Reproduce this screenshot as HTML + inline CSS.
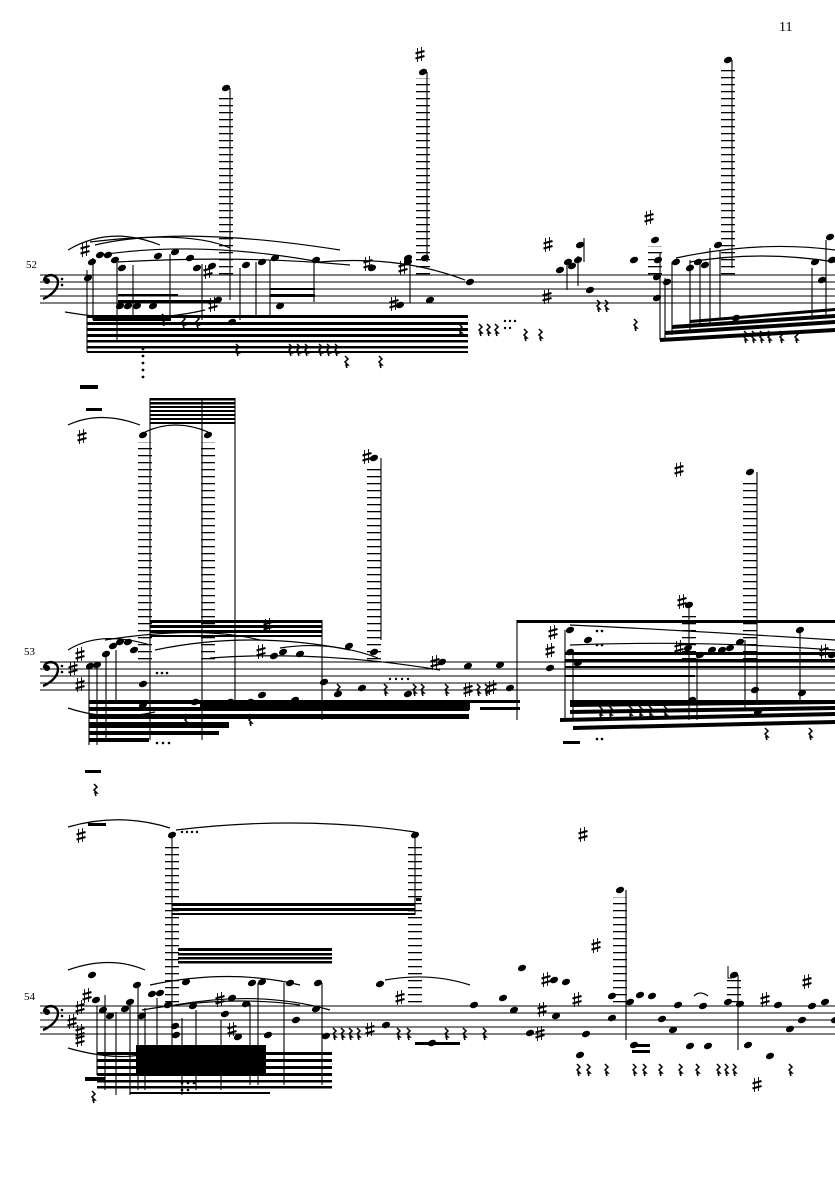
<!DOCTYPE html>
<html><head><meta charset="utf-8"><style>
html,body{margin:0;padding:0;background:#fff}
svg{display:block}
text{font-family:"Liberation Serif",serif;fill:#000}
</style></head><body>
<svg width="835" height="1181" viewBox="0 0 835 1181" xmlns="http://www.w3.org/2000/svg">
<defs>
<pattern id="led" width="14" height="7" patternUnits="userSpaceOnUse"><rect x="0" y="0" width="14" height="1.3" fill="#000"/></pattern>
<g id="n"><ellipse cx="0" cy="0" rx="4.2" ry="3" transform="rotate(-22)" fill="#000"/></g>
<g id="s"><path d="M-2.5,-7v14M1.5,-8v14" stroke="#000" stroke-width="0.9"/><path d="M-4.5,-1.5l9,-2.5M-4.5,3.5l9,-2.5" stroke="#000" stroke-width="2"/></g>
<g id="r"><path d="M-1,-6l3,3-3,3 3,3-2,0 1,3" stroke="#000" stroke-width="1.5" fill="none"/></g>
<g id="clef"><circle cx="-4" cy="-4" r="3" fill="#000"/><path d="M-7,-4c0-8 14-8 14,1c0,8-8,14-15,17" stroke="#000" stroke-width="2.4" fill="none"/><circle cx="11" cy="-6" r="1.3"/><circle cx="11" cy="0" r="1.3"/></g>
</defs>
<text x="779" y="31" font-size="14">11</text>

<!-- ===== SYSTEM 1 ===== -->
<text x="26" y="268" font-size="11">52</text>
<g stroke="#000" stroke-width="0.9">
<line x1="40" y1="275" x2="835" y2="275"/><line x1="40" y1="282" x2="835" y2="282"/><line x1="40" y1="289" x2="835" y2="289"/><line x1="40" y1="296" x2="835" y2="296"/><line x1="40" y1="303" x2="835" y2="303"/>
</g>
<use href="#clef" x="51" y="285"/>
<!-- ledger stacks -->
<rect x="219" y="94" width="14" height="181" fill="url(#led)"/>
<rect x="416" y="78" width="14" height="197" fill="url(#led)"/>
<rect x="721" y="66" width="14" height="209" fill="url(#led)"/>
<rect x="648" y="246" width="14" height="29" fill="url(#led)"/>
<use href="#n" x="226" y="88"/><use href="#n" x="423" y="72"/><use href="#n" x="728" y="60"/><use href="#n" x="655" y="240"/>
<use href="#s" x="420" y="55"/><use href="#s" x="649" y="218"/><use href="#s" x="548" y="245"/><use href="#s" x="547" y="297"/><use href="#s" x="403" y="268"/><use href="#s" x="394" y="304"/><use href="#s" x="208" y="272"/><use href="#s" x="213" y="305"/><use href="#s" x="368" y="264"/><use href="#s" x="85" y="250"/>
<g stroke="#000" stroke-width="1.1">
<line x1="230" y1="88" x2="230" y2="300"/><line x1="427" y1="72" x2="427" y2="262"/><line x1="732" y1="60" x2="732" y2="268"/>
<line x1="87" y1="270" x2="87" y2="352"/><line x1="93" y1="258" x2="93" y2="320"/><line x1="117" y1="262" x2="117" y2="340"/><line x1="133" y1="265" x2="133" y2="320"/><line x1="170" y1="254" x2="170" y2="320"/><line x1="202" y1="264" x2="202" y2="320"/><line x1="240" y1="268" x2="240" y2="320"/><line x1="256" y1="262" x2="256" y2="318"/><line x1="270" y1="260" x2="270" y2="318"/><line x1="314" y1="262" x2="314" y2="302"/><line x1="410" y1="258" x2="410" y2="303"/>
<line x1="660" y1="252" x2="660" y2="340"/><line x1="665" y1="278" x2="665" y2="340"/><line x1="672" y1="262" x2="672" y2="335"/><line x1="690" y1="260" x2="690" y2="330"/><line x1="700" y1="262" x2="700" y2="326"/><line x1="710" y1="248" x2="710" y2="325"/><line x1="720" y1="250" x2="720" y2="320"/><line x1="812" y1="268" x2="812" y2="320"/><line x1="826" y1="240" x2="826" y2="318"/>
<line x1="567" y1="262" x2="567" y2="290"/><line x1="578" y1="256" x2="578" y2="286"/><line x1="584" y1="238" x2="584" y2="262"/>
</g>
<!-- noteheads staff 1 -->
<g>
<use href="#n" x="88" y="278"/><use href="#n" x="92" y="262"/><use href="#n" x="100" y="255"/><use href="#n" x="108" y="255"/><use href="#n" x="115" y="260"/><use href="#n" x="122" y="268"/><use href="#n" x="120" y="306"/><use href="#n" x="128" y="306"/><use href="#n" x="137" y="306"/><use href="#n" x="153" y="306"/><use href="#n" x="158" y="256"/><use href="#n" x="175" y="252"/><use href="#n" x="190" y="258"/><use href="#n" x="197" y="268"/><use href="#n" x="212" y="266"/><use href="#n" x="218" y="300"/><use href="#n" x="232" y="322"/><use href="#n" x="246" y="265"/><use href="#n" x="262" y="262"/><use href="#n" x="275" y="258"/><use href="#n" x="280" y="306"/><use href="#n" x="316" y="260"/><use href="#n" x="372" y="268"/><use href="#n" x="400" y="305"/><use href="#n" x="408" y="262"/><use href="#n" x="408" y="258"/><use href="#n" x="425" y="258"/><use href="#n" x="470" y="282"/><use href="#n" x="430" y="300"/>
<use href="#n" x="560" y="270"/><use href="#n" x="568" y="262"/><use href="#n" x="572" y="266"/><use href="#n" x="578" y="260"/><use href="#n" x="580" y="245"/><use href="#n" x="590" y="290"/><use href="#n" x="634" y="260"/><use href="#n" x="658" y="260"/><use href="#n" x="657" y="277"/><use href="#n" x="657" y="298"/><use href="#n" x="667" y="282"/><use href="#n" x="676" y="262"/><use href="#n" x="690" y="268"/><use href="#n" x="698" y="262"/><use href="#n" x="705" y="265"/><use href="#n" x="718" y="245"/><use href="#n" x="736" y="318"/><use href="#n" x="815" y="262"/><use href="#n" x="822" y="280"/><use href="#n" x="830" y="237"/><use href="#n" x="832" y="260"/>
</g>
<!-- beams system 1 -->
<g fill="#000">
<rect x="87" y="315" width="381" height="3"/><rect x="87" y="322" width="381" height="3"/><rect x="87" y="328" width="381" height="3"/><rect x="87" y="334" width="381" height="3"/><rect x="87" y="340" width="381" height="2.5"/><rect x="87" y="346" width="381" height="2.5"/><rect x="87" y="351" width="381" height="2"/>
<rect x="93" y="318" width="78" height="3"/><rect x="118" y="300" width="100" height="3"/><rect x="118" y="294" width="60" height="2.5"/>
<rect x="270" y="294" width="45" height="3"/><rect x="270" y="288" width="45" height="2"/>
<polygon points="660,338 835,328 835,332 660,342"/><polygon points="665,331 835,320 835,324 665,335"/><polygon points="672,325 835,314 835,318 672,329"/><polygon points="690,320 835,308 835,311 690,323"/>
<rect x="80" y="385" width="18" height="4"/><rect x="86" y="408" width="16" height="3"/>
<circle cx="143" cy="349" r="1.4"/><circle cx="143" cy="356" r="1.4"/><circle cx="143" cy="363" r="1.4"/><circle cx="143" cy="370" r="1.4"/><circle cx="143" cy="377" r="1.4"/>
<circle cx="505" cy="321" r="1.2"/><circle cx="510" cy="321" r="1.2"/><circle cx="515" cy="321" r="1.2"/><circle cx="505" cy="328" r="1.2"/><circle cx="510" cy="328" r="1.2"/>
</g>
<g>
<use href="#r" x="163" y="320"/><use href="#r" x="183" y="322"/><use href="#r" x="197" y="322"/><use href="#r" x="237" y="350"/><use href="#r" x="290" y="350"/><use href="#r" x="298" y="350"/><use href="#r" x="306" y="350"/><use href="#r" x="320" y="350"/><use href="#r" x="328" y="350"/><use href="#r" x="336" y="350"/><use href="#r" x="346" y="362"/><use href="#r" x="380" y="362"/><use href="#r" x="460" y="330"/><use href="#r" x="480" y="330"/><use href="#r" x="488" y="330"/><use href="#r" x="496" y="330"/><use href="#r" x="525" y="335"/><use href="#r" x="540" y="335"/><use href="#r" x="598" y="306"/><use href="#r" x="606" y="306"/><use href="#r" x="635" y="325"/><use href="#r" x="745" y="337"/><use href="#r" x="753" y="337"/><use href="#r" x="761" y="337"/><use href="#r" x="769" y="337"/><use href="#r" x="781" y="337"/><use href="#r" x="796" y="337"/>
</g>
<g fill="none" stroke="#000" stroke-width="1.2">
<path d="M68,250 Q110,225 160,245"/><path d="M95,245 Q180,225 340,250"/><path d="M100,255 Q200,240 320,262"/><path d="M118,262 Q240,255 350,265"/><path d="M65,312 Q140,325 205,310"/><path d="M90,242 Q190,230 230,248"/><path d="M320,262 Q400,255 465,280"/><path d="M676,258 Q760,240 835,250"/><path d="M690,262 Q760,250 835,262"/>
</g>

<!-- ===== SYSTEM 2 ===== -->
<text x="24" y="655" font-size="11">53</text>
<g stroke="#000" stroke-width="0.9">
<line x1="40" y1="662" x2="835" y2="662"/><line x1="40" y1="669" x2="835" y2="669"/><line x1="40" y1="676" x2="835" y2="676"/><line x1="40" y1="683" x2="835" y2="683"/><line x1="40" y1="690" x2="835" y2="690"/>
</g>
<use href="#clef" x="51" y="672"/>
<use href="#s" x="73" y="669"/><use href="#s" x="80" y="655"/><use href="#s" x="80" y="685"/><use href="#s" x="82" y="437"/>
<rect x="138" y="442" width="14" height="220" fill="url(#led)"/>
<rect x="201" y="442" width="14" height="220" fill="url(#led)"/>
<rect x="367" y="466" width="14" height="196" fill="url(#led)"/>
<rect x="743" y="478" width="14" height="184" fill="url(#led)"/>
<rect x="682" y="612" width="14" height="50" fill="url(#led)"/>
<use href="#n" x="143" y="435"/><use href="#n" x="208" y="435"/><use href="#n" x="374" y="458"/><use href="#n" x="750" y="472"/><use href="#n" x="689" y="605"/>
<use href="#s" x="367" y="457"/><use href="#s" x="679" y="470"/><use href="#s" x="682" y="602"/><use href="#s" x="268" y="626"/><use href="#s" x="261" y="652"/><use href="#s" x="435" y="663"/><use href="#s" x="468" y="690"/><use href="#s" x="492" y="688"/><use href="#s" x="553" y="633"/><use href="#s" x="550" y="651"/><use href="#s" x="679" y="648"/><use href="#s" x="824" y="652"/>
<g stroke="#000" stroke-width="1.1">
<line x1="150" y1="398" x2="150" y2="740"/><line x1="202" y1="398" x2="202" y2="740"/><line x1="235" y1="398" x2="235" y2="700"/>
<line x1="381" y1="458" x2="381" y2="640"/><line x1="757" y1="472" x2="757" y2="700"/>
<line x1="89" y1="668" x2="89" y2="745"/><line x1="97" y1="665" x2="97" y2="745"/><line x1="106" y1="655" x2="106" y2="740"/><line x1="116" y1="650" x2="116" y2="700"/>
<line x1="322" y1="620" x2="322" y2="720"/><line x1="517" y1="620" x2="517" y2="720"/><line x1="565" y1="630" x2="565" y2="720"/><line x1="573" y1="650" x2="573" y2="720"/>
<line x1="689" y1="605" x2="689" y2="720"/><line x1="697" y1="655" x2="697" y2="720"/><line x1="745" y1="640" x2="745" y2="710"/><line x1="800" y1="630" x2="800" y2="700"/>
</g>
<g>
<use href="#n" x="90" y="666"/><use href="#n" x="97" y="665"/><use href="#n" x="106" y="654"/><use href="#n" x="113" y="646"/><use href="#n" x="120" y="642"/><use href="#n" x="128" y="642"/><use href="#n" x="134" y="650"/><use href="#n" x="143" y="684"/><use href="#n" x="143" y="705"/><use href="#n" x="195" y="702"/><use href="#n" x="230" y="702"/><use href="#n" x="250" y="702"/><use href="#n" x="262" y="695"/><use href="#n" x="274" y="656"/><use href="#n" x="283" y="652"/><use href="#n" x="295" y="700"/><use href="#n" x="300" y="654"/><use href="#n" x="324" y="682"/><use href="#n" x="349" y="646"/><use href="#n" x="338" y="694"/><use href="#n" x="362" y="688"/><use href="#n" x="374" y="652"/><use href="#n" x="408" y="694"/><use href="#n" x="442" y="662"/><use href="#n" x="468" y="666"/><use href="#n" x="500" y="665"/><use href="#n" x="510" y="688"/><use href="#n" x="550" y="668"/>
<use href="#n" x="570" y="630"/><use href="#n" x="570" y="652"/><use href="#n" x="578" y="663"/><use href="#n" x="588" y="640"/><use href="#n" x="688" y="648"/><use href="#n" x="692" y="700"/><use href="#n" x="700" y="655"/><use href="#n" x="712" y="650"/><use href="#n" x="722" y="650"/><use href="#n" x="730" y="648"/><use href="#n" x="740" y="642"/><use href="#n" x="755" y="690"/><use href="#n" x="758" y="712"/><use href="#n" x="800" y="630"/><use href="#n" x="802" y="693"/><use href="#n" x="832" y="655"/>
</g>
<g fill="#000">
<rect x="150" y="398" width="85" height="2.5"/><rect x="150" y="402" width="85" height="2.5"/><rect x="150" y="406" width="85" height="2"/><rect x="150" y="410" width="85" height="2"/><rect x="150" y="414" width="85" height="2"/><rect x="150" y="418" width="85" height="2"/><rect x="150" y="422" width="85" height="2"/>
<rect x="150" y="620" width="172" height="3"/><rect x="150" y="625" width="172" height="3"/><rect x="150" y="630" width="172" height="3"/><rect x="150" y="635" width="172" height="2"/>
<rect x="89" y="700" width="380" height="4"/><rect x="89" y="707" width="380" height="4"/><rect x="89" y="714" width="380" height="5"/><rect x="89" y="722" width="140" height="6"/><rect x="89" y="731" width="130" height="4"/><rect x="89" y="738" width="60" height="4"/>
<rect x="200" y="700" width="270" height="10"/>
<rect x="470" y="700" width="50" height="3"/><rect x="480" y="707" width="40" height="3"/>
<rect x="517" y="620" width="318" height="3"/><rect x="565" y="652" width="270" height="3"/><rect x="565" y="659" width="270" height="3"/><rect x="565" y="666" width="270" height="2"/><rect x="565" y="675" width="130" height="2"/>
<polygon points="570,700 835,700 835,704 570,707"/><polygon points="570,710 835,706 835,710 570,714"/><polygon points="560,718 835,712 835,716 560,722"/><polygon points="573,726 835,720 835,724 573,730"/>
<rect x="563" y="741" width="17" height="3"/><rect x="85" y="770" width="16" height="3"/>
<circle cx="157" cy="673" r="1.3"/><circle cx="162" cy="673" r="1.3"/><circle cx="167" cy="673" r="1.3"/><circle cx="157" cy="743" r="1.3"/><circle cx="163" cy="743" r="1.3"/><circle cx="169" cy="743" r="1.3"/><circle cx="597" cy="739" r="1.3"/><circle cx="602" cy="739" r="1.3"/><circle cx="597" cy="631" r="1.3"/><circle cx="602" cy="631" r="1.3"/><circle cx="597" cy="645" r="1.3"/><circle cx="602" cy="645" r="1.3"/>
<circle cx="390" cy="679" r="1.2"/><circle cx="396" cy="679" r="1.2"/><circle cx="402" cy="679" r="1.2"/><circle cx="408" cy="679" r="1.2"/>
</g>
<g>
<use href="#r" x="414" y="690"/><use href="#r" x="422" y="690"/><use href="#r" x="446" y="690"/><use href="#r" x="478" y="690"/><use href="#r" x="486" y="690"/><use href="#r" x="338" y="690"/><use href="#r" x="385" y="690"/><use href="#r" x="600" y="712"/><use href="#r" x="610" y="712"/><use href="#r" x="630" y="712"/><use href="#r" x="640" y="712"/><use href="#r" x="650" y="712"/><use href="#r" x="665" y="712"/><use href="#r" x="766" y="734"/><use href="#r" x="810" y="734"/><use href="#r" x="95" y="790"/><use href="#r" x="186" y="720"/><use href="#r" x="250" y="720"/>
</g>
<g fill="none" stroke="#000" stroke-width="1.2">
<path d="M68,425 Q100,410 140,425"/><path d="M68,650 Q100,630 150,645"/><path d="M68,708 Q110,722 155,712"/><path d="M105,640 Q200,625 260,640"/><path d="M155,650 Q250,630 350,650"/><path d="M145,432 Q175,418 208,432"/><path d="M280,648 Q330,640 378,658"/><path d="M210,658 Q320,650 440,670"/><path d="M570,625 Q680,630 835,640"/><path d="M570,645 Q700,640 835,650"/>
</g>

<!-- ===== SYSTEM 3 ===== -->
<text x="24" y="1000" font-size="11">54</text>
<g stroke="#000" stroke-width="0.9">
<line x1="40" y1="1006" x2="835" y2="1006"/><line x1="40" y1="1013" x2="835" y2="1013"/><line x1="40" y1="1020" x2="835" y2="1020"/><line x1="40" y1="1027" x2="835" y2="1027"/><line x1="40" y1="1034" x2="835" y2="1034"/>
</g>
<use href="#clef" x="51" y="1016"/>
<use href="#s" x="72" y="1022"/><use href="#s" x="80" y="1008"/><use href="#s" x="80" y="1032"/><use href="#s" x="87" y="996"/><use href="#s" x="80" y="1040"/><use href="#s" x="81" y="836"/><use href="#s" x="583" y="835"/><use href="#s" x="596" y="946"/><use href="#s" x="546" y="980"/><use href="#s" x="542" y="1010"/><use href="#s" x="577" y="1000"/><use href="#s" x="540" y="1034"/><use href="#s" x="757" y="1085"/><use href="#s" x="765" y="1000"/><use href="#s" x="807" y="982"/><use href="#s" x="232" y="1030"/><use href="#s" x="220" y="1000"/><use href="#s" x="400" y="998"/><use href="#s" x="370" y="1030"/>
<rect x="165" y="842" width="14" height="164" fill="url(#led)"/>
<rect x="408" y="842" width="14" height="164" fill="url(#led)"/>
<rect x="613" y="897" width="14" height="109" fill="url(#led)"/>
<rect x="727" y="978" width="14" height="28" fill="url(#led)"/>
<use href="#n" x="172" y="835"/><use href="#n" x="415" y="835"/><use href="#n" x="620" y="890"/><use href="#n" x="734" y="975"/>
<path d="M728,966v12h4" stroke="#000" stroke-width="1" fill="none"/>
<g stroke="#000" stroke-width="1.1">
<line x1="172" y1="835" x2="172" y2="1075"/><line x1="415" y1="835" x2="415" y2="915"/><line x1="626" y1="890" x2="626" y2="1040"/><line x1="738" y1="975" x2="738" y2="1050"/>
<line x1="97" y1="1006" x2="97" y2="1075"/><line x1="105" y1="995" x2="105" y2="1090"/><line x1="116" y1="1012" x2="116" y2="1095"/><line x1="130" y1="1000" x2="130" y2="1095"/><line x1="138" y1="985" x2="138" y2="1090"/><line x1="145" y1="1008" x2="145" y2="1090"/><line x1="157" y1="998" x2="157" y2="1075"/><line x1="182" y1="1018" x2="182" y2="1095"/><line x1="196" y1="1010" x2="196" y2="1090"/><line x1="221" y1="1020" x2="221" y2="1090"/><line x1="250" y1="1003" x2="250" y2="1085"/><line x1="258" y1="983" x2="258" y2="1085"/><line x1="284" y1="983" x2="284" y2="1085"/><line x1="322" y1="983" x2="322" y2="1085"/>
</g>
<g>
<use href="#n" x="92" y="975"/><use href="#n" x="96" y="1000"/><use href="#n" x="103" y="1010"/><use href="#n" x="110" y="1016"/><use href="#n" x="125" y="1009"/><use href="#n" x="130" y="1002"/><use href="#n" x="137" y="985"/><use href="#n" x="142" y="1016"/><use href="#n" x="152" y="994"/><use href="#n" x="160" y="993"/><use href="#n" x="168" y="1005"/><use href="#n" x="175" y="1026"/><use href="#n" x="186" y="982"/><use href="#n" x="193" y="1006"/><use href="#n" x="176" y="1035"/><use href="#n" x="225" y="1014"/><use href="#n" x="238" y="1037"/><use href="#n" x="232" y="998"/><use href="#n" x="246" y="1004"/><use href="#n" x="252" y="983"/><use href="#n" x="262" y="982"/><use href="#n" x="268" y="1035"/><use href="#n" x="296" y="1020"/><use href="#n" x="290" y="983"/><use href="#n" x="316" y="1009"/><use href="#n" x="318" y="983"/><use href="#n" x="326" y="1036"/><use href="#n" x="380" y="984"/><use href="#n" x="386" y="1025"/><use href="#n" x="432" y="1043"/><use href="#n" x="474" y="1005"/><use href="#n" x="503" y="998"/><use href="#n" x="514" y="1010"/><use href="#n" x="522" y="968"/><use href="#n" x="530" y="1033"/><use href="#n" x="554" y="980"/><use href="#n" x="556" y="1016"/><use href="#n" x="566" y="982"/><use href="#n" x="586" y="1034"/><use href="#n" x="580" y="1055"/><use href="#n" x="612" y="996"/><use href="#n" x="612" y="1018"/><use href="#n" x="630" y="1002"/><use href="#n" x="634" y="1045"/><use href="#n" x="640" y="995"/><use href="#n" x="652" y="996"/><use href="#n" x="662" y="1019"/><use href="#n" x="673" y="1030"/><use href="#n" x="678" y="1005"/><use href="#n" x="690" y="1046"/><use href="#n" x="703" y="1006"/><use href="#n" x="708" y="1046"/><use href="#n" x="728" y="1002"/><use href="#n" x="740" y="1004"/><use href="#n" x="748" y="1045"/><use href="#n" x="770" y="1056"/><use href="#n" x="778" y="1005"/><use href="#n" x="790" y="1029"/><use href="#n" x="802" y="1020"/><use href="#n" x="812" y="1006"/><use href="#n" x="825" y="1002"/><use href="#n" x="835" y="1020"/>
</g>
<g fill="#000">
<rect x="172" y="903" width="243" height="3"/><rect x="172" y="908" width="243" height="3"/><rect x="172" y="913" width="243" height="2"/>
<rect x="178" y="948" width="154" height="3"/><rect x="178" y="953" width="154" height="2.5"/><rect x="178" y="957" width="154" height="2.5"/><rect x="178" y="961" width="154" height="2.5"/>
<rect x="97" y="1052" width="235" height="3"/><rect x="97" y="1059" width="235" height="3"/><rect x="97" y="1066" width="235" height="3"/><rect x="97" y="1073" width="235" height="3"/><rect x="97" y="1080" width="235" height="2.5"/><rect x="97" y="1086" width="235" height="2.5"/><rect x="130" y="1092" width="140" height="2"/>
<rect x="136" y="1045" width="130" height="28"/>
<rect x="415" y="1042" width="45" height="3"/><rect x="632" y="1044" width="18" height="3"/><rect x="632" y="1050" width="18" height="3"/>
<rect x="85" y="1077" width="20" height="4"/><rect x="88" y="823" width="18" height="3"/><rect x="416" y="898" width="5" height="3"/>
<circle cx="182" cy="1083" r="1.3"/><circle cx="188" cy="1083" r="1.3"/><circle cx="194" cy="1083" r="1.3"/><circle cx="182" cy="1090" r="1.3"/><circle cx="188" cy="1090" r="1.3"/>
<circle cx="182" cy="832" r="1.2"/><circle cx="187" cy="832" r="1.2"/><circle cx="192" cy="832" r="1.2"/><circle cx="197" cy="832" r="1.2"/>
</g>
<g>
<use href="#r" x="334" y="1034"/><use href="#r" x="342" y="1034"/><use href="#r" x="350" y="1034"/><use href="#r" x="358" y="1034"/><use href="#r" x="398" y="1034"/><use href="#r" x="408" y="1034"/><use href="#r" x="446" y="1034"/><use href="#r" x="464" y="1034"/><use href="#r" x="484" y="1034"/><use href="#r" x="578" y="1070"/><use href="#r" x="588" y="1070"/><use href="#r" x="606" y="1070"/><use href="#r" x="634" y="1070"/><use href="#r" x="644" y="1070"/><use href="#r" x="660" y="1070"/><use href="#r" x="680" y="1070"/><use href="#r" x="697" y="1070"/><use href="#r" x="718" y="1070"/><use href="#r" x="726" y="1070"/><use href="#r" x="734" y="1070"/><use href="#r" x="790" y="1070"/><use href="#r" x="93" y="1097"/>
</g>
<g fill="none" stroke="#000" stroke-width="1.2">
<path d="M68,827 Q120,812 170,828"/><path d="M176,830 Q300,815 415,832"/><path d="M68,970 Q110,955 145,970"/><path d="M68,1048 Q110,1060 140,1055"/><path d="M150,985 Q230,968 300,985"/><path d="M175,1005 Q260,990 330,1010"/><path d="M142,1010 Q230,995 300,1005"/><path d="M385,980 Q430,972 470,985"/><path d="M694,996 Q700,990 708,996"/>
</g>
</svg>
</body></html>
